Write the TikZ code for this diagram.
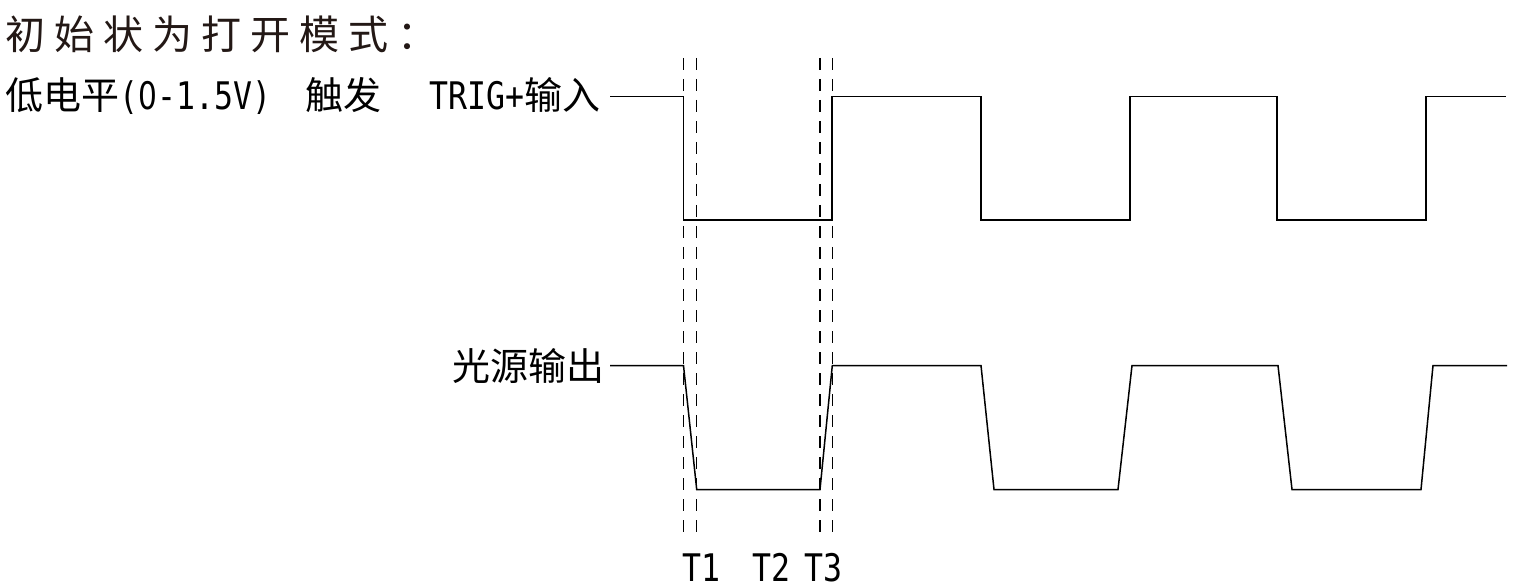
\documentclass[tikz,border=0pt]{standalone}
\usepackage{fontspec}
\setmainfont{Noto Sans CJK SC}
\newfontfamily\cjk{Noto Sans CJK SC}
\newfontfamily\hw[FakeStretch=0.83]{DejaVu Sans Mono}
\newfontfamily\hz[FakeStretch=0.78]{DejaVu Sans}
\definecolor{titlegray}{RGB}{35,24,21}
\newcommand{\ls}{\hspace{9pt}}
\newcommand{\plainzero}{\makebox[19pt]{\hz 0}}
\begin{document}
\begin{tikzpicture}[x=1pt,y=-1pt,
  sig/.style={line width=1.5pt,line join=miter},
  guide/.style={line width=1.3pt,dash pattern=on 12pt off 9pt},
  lbl/.style={inner sep=0pt,font=\fontsize{38}{40}\selectfont},
  tlbl/.style={inner sep=0pt,font=\fontsize{38}{40}\selectfont\hw,anchor=base}]
\useasboundingbox (0,0) rectangle (1513,588);
% texts
\node[lbl,anchor=base west,text=titlegray,font=\fontsize{40}{42}\selectfont] (title) at (5,50)
  {初\ls 始\ls 状\ls 为\ls 打\ls 开\ls 模\ls 式\ls ：};
\node[lbl,anchor=base west] (trig) at (5,110)
  {低电平{\hw(\plainzero-1.5V)}\hspace{34pt}触发\hspace{48pt}{\hw TRIG+}输入};
\node[lbl,anchor=base east] (light) at (605,380) {光源输出};
\node[tlbl] (t1) at (701,581) {T1};
\node[tlbl] (t2) at (771,581) {T2};
\node[tlbl] (t3) at (823,581) {T3};
% guide lines
\foreach \gx/\nm in {683.5/ga,696.7/gb,820/gc,832.3/gd}{
  \coordinate (\nm top) at (\gx,58);
  \coordinate (\nm bot) at (\gx,537);
  \draw[guide] (\nm top) -- (\nm bot);
}
% trigger input waveform
\coordinate (a0) at (610,96.5);
\coordinate (aend) at (1506,96.5);
\draw[sig] (a0) -- (683.5,96.5) -- (683.5,220) -- (832,220) -- (832,96.5)
  -- (981,96.5) -- (981,220) -- (1130,220) -- (1130,96.5)
  -- (1277,96.5) -- (1277,220) -- (1426,220) -- (1426,96.5) -- (aend);
% light output waveform
\coordinate (b0) at (610,365.5);
\coordinate (bend) at (1507,365.5);
\draw[sig] (b0) -- (683.5,365.5) -- (696.7,489.5) -- (820,489.5) -- (832.3,365.5)
  -- (981,365.5) -- (994,489.5) -- (1118,489.5) -- (1132,365.5)
  -- (1278,365.5) -- (1292,489.5) -- (1421,489.5) -- (1433,365.5) -- (bend);
\end{tikzpicture}
\end{document}
